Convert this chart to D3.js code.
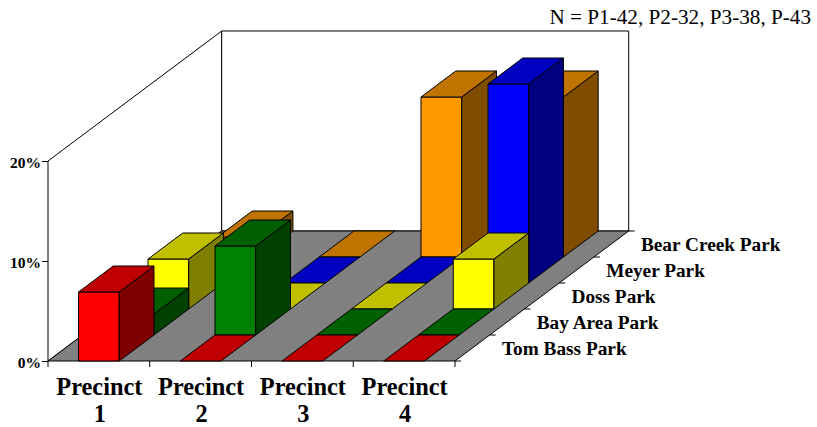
<!DOCTYPE html>
<html>
<head>
<meta charset="utf-8">
<script src="https://cdn.jsdelivr.net/npm/d3@7/dist/d3.min.js"></script>
<style>
  html, body { margin: 0; padding: 0; background: #fff; }
  svg { display: block; }
  text { font-family: "Liberation Serif", serif; fill: #000; }
</style>
</head>
<body>
<svg id="chart"></svg>
<script>
const precincts = ['1', '2', '3', '4'];
const parks = ['Tom Bass Park', 'Bay Area Park', 'Doss Park', 'Meyer Park', 'Bear Creek Park'];
const tomBass = [6.9, 0, 0, 0];
const bayArea = [2.1, 8.9, 0, 0];
const doss = [5, 0, 0, 5];
const meyer = [0, 0, 0, 19.9];
const bearCreek = [2, 0, 16, 16];
const seriesValues = [tomBass, bayArea, doss, meyer, bearCreek];
const valueTicks = [0, 10, 20];
const subtitle = 'N = P1-42, P2-32, P3-38, P-43';

// front, top, side shade per park
const shades = [
    ['#ff0000', '#c00000', '#800000'],
    ['#008000', '#006000', '#004000'],
    ['#ffff00', '#c0c000', '#808000'],
    ['#0000ff', '#0000c0', '#000080'],
    ['#ff9900', '#bf7300', '#804d00'],
];

const svg = d3.select('#chart').attr('width', 817).attr('height', 427);

const x = d3.scaleBand().domain(precincts).range([48, 455]).paddingInner(0).paddingOuter(0);
const y = d3.scaleLinear().domain([0, 20]).range([361, 161]);
const depth = d3.scaleLinear().domain([0, parks.length]).range([0, 1]);
const depthX = 173.7, depthY = 130;

// screen position of a floor point (px along front edge, row along depth, value up)
const pt = (px, row, val) => [
    px + depth(row) * depthX,
    y(val) - depth(row) * depthY,
];
const poly = pts => pts.map(p => p.join(',')).join(' ');
const face = (pts, fill) => svg.append('polygon')
    .attr('points', poly(pts))
    .attr('fill', fill)
    .attr('stroke', '#000')
    .attr('stroke-width', 1)
    .attr('stroke-linejoin', 'round');

const x0 = 48, x1 = 455, yTop = d3.max(y.domain());

// walls
face([pt(x0, 0, 0), pt(x0, 0, yTop), pt(x0, 5, yTop), pt(x0, 5, 0)], '#fff');
face([pt(x0, 5, 0), pt(x0, 5, yTop), pt(x1, 5, yTop), pt(x1, 5, 0)], '#fff');
// floor
face([pt(x0, 0, 0), pt(x1, 0, 0), pt(x1, 5, 0), pt(x0, 5, 0)], '#808080');

// bars, back row first
const barW = x.bandwidth() * 0.4;
d3.range(parks.length - 1, -1, -1).forEach(r => {
    precincts.forEach((p, i) => {
        const v = seriesValues[r][i];
        const a = x(p) + (x.bandwidth() - barW) / 2, b = a + barW;
        const [front, topC, side] = shades[r];
        if (v > 0) {
            face([pt(a, r, 0), pt(b, r, 0), pt(b, r, v), pt(a, r, v)], front);
            face([pt(b, r, 0), pt(b, r + 1, 0), pt(b, r + 1, v), pt(b, r, v)], side);
        }
        face([pt(a, r, v), pt(b, r, v), pt(b, r + 1, v), pt(a, r + 1, v)], topC);
    });
});

// value axis
const yAxis = svg.append('g')
    .attr('transform', 'translate(48,0)')
    .call(d3.axisLeft(y).tickValues(valueTicks).tickSize(6).tickPadding(1).tickFormat(d => d + '%'));
yAxis.select('.domain').remove();
yAxis.selectAll('line').attr('stroke', '#000');
yAxis.selectAll('text')
    .attr('dy', '0.42em')
    .style('font-family', '"Liberation Serif", serif')
    .style('font-size', '15.5px')
    .style('font-weight', 'bold');

// precinct axis, ticks sit on the band edges
const edges = precincts.map(p => x(p)).concat([x1]);
svg.selectAll('.xtick').data(edges).enter().append('line')
    .attr('class', 'xtick')
    .attr('x1', d => d).attr('x2', d => d)
    .attr('y1', y(0)).attr('y2', y(0) + 6)
    .attr('stroke', '#000');

const xLabels = svg.selectAll('.xlabel').data(precincts).enter().append('text')
    .attr('class', 'xlabel')
    .attr('text-anchor', 'middle')
    .style('font-size', '24.4px')
    .style('font-weight', 'bold');
xLabels.append('tspan').attr('x', d => x(d) + x.bandwidth() / 2 + 0.5).attr('y', 395).text('Precinct');
xLabels.append('tspan').attr('x', d => x(d) + x.bandwidth() / 2 + 1).attr('y', 421.7).text(d => d);

// depth ticks and park labels
d3.range(parks.length + 1).forEach(r => {
    const [tx, ty] = pt(x1, r, 0);
    svg.append('line')
        .attr('x1', tx).attr('x2', tx + 6)
        .attr('y1', ty).attr('y2', ty)
        .attr('stroke', '#000');
});
svg.selectAll('.park').data(parks).enter().append('text')
    .attr('class', 'park')
    .attr('x', (d, i) => 502 + i * depthX / parks.length)
    .attr('y', (d, i) => pt(x1, i, 0)[1] - 6.5)
    .style('font-size', '19.3px')
    .style('font-weight', 'bold')
    .text(d => d);

svg.append('text')
    .attr('x', 811).attr('y', 24)
    .attr('text-anchor', 'end')
    .style('font-size', '21.2px')
    .text(subtitle);
</script>
</body>
</html>
